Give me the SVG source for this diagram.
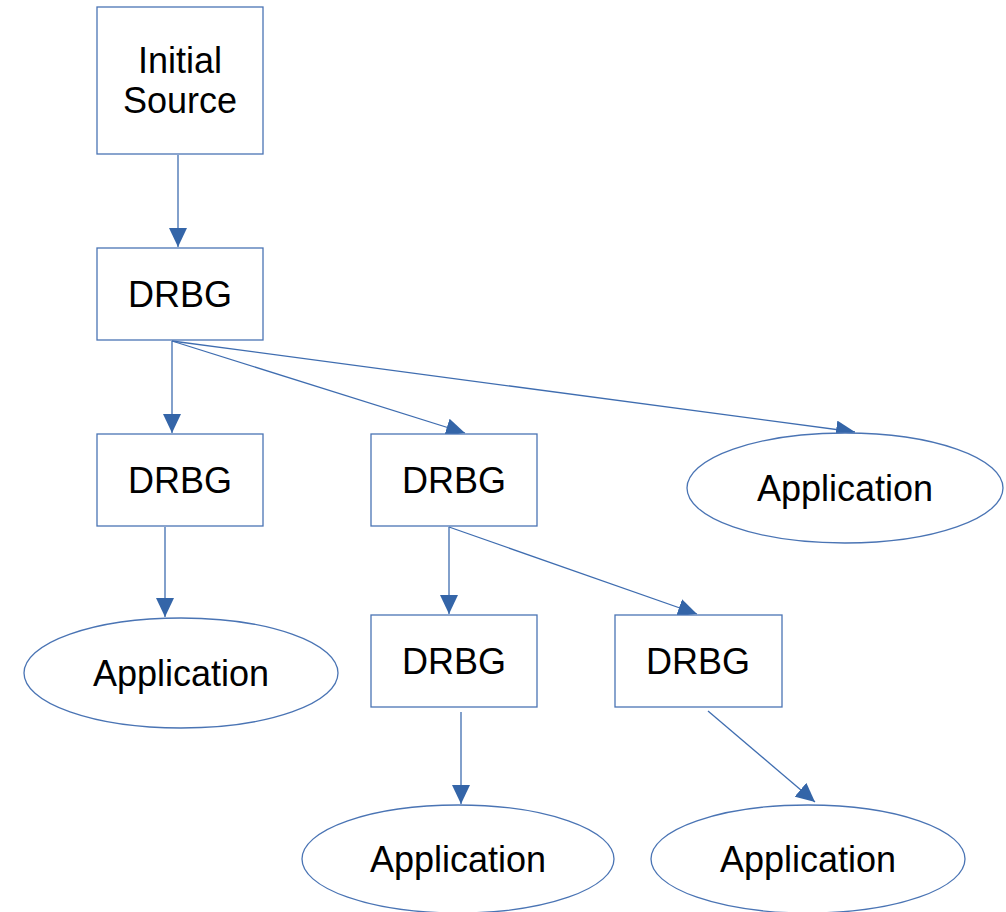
<svg xmlns="http://www.w3.org/2000/svg" width="1006" height="912" viewBox="0 0 1006 912">
<style>
.box{fill:#fff;stroke:#4a74b4;stroke-width:1.3}
.lbl{font-family:"Liberation Sans",Arial,sans-serif;font-size:36px;fill:#000;text-anchor:middle}
.edge{stroke:#3f6db0;stroke-width:1.3;fill:none;marker-end:url(#ah)}
</style>
<defs>
<marker id="ah" markerUnits="userSpaceOnUse" markerWidth="20" markerHeight="18" viewBox="0 0 20 18" refX="19" refY="9" orient="auto">
<path d="M0,0 L19,9 L0,18 Z" fill="#3465a8"/>
</marker>
</defs>
<rect width="1006" height="912" fill="#fff"/>
<g id="connectors">
<line class="edge" x1="178" y1="155" x2="178" y2="247"/>
<line class="edge" x1="172" y1="341" x2="172" y2="433"/>
<line class="edge" x1="172" y1="341" x2="465" y2="433"/>
<line class="edge" x1="172" y1="341" x2="855" y2="432"/>
<line class="edge" x1="165" y1="527" x2="165" y2="617"/>
<line class="edge" x1="449" y1="527" x2="449" y2="614"/>
<line class="edge" x1="449" y1="527" x2="697" y2="614"/>
<line class="edge" x1="461" y1="712" x2="461" y2="804"/>
<line class="edge" x1="708" y1="711" x2="815" y2="802"/>
</g>
<g id="initial-source">
<rect class="box" x="97" y="7" width="166" height="147"/>
<text class="lbl" x="180" y="73">Initial</text>
<text class="lbl" x="180" y="113">Source</text>
</g>
<g id="drbg-root">
<rect class="box" x="97" y="248" width="166" height="92"/>
<text class="lbl" x="180" y="307">DRBG</text>
</g>
<g id="drbg-left">
<rect class="box" x="97" y="434" width="166" height="92"/>
<text class="lbl" x="180" y="493">DRBG</text>
</g>
<g id="drbg-mid">
<rect class="box" x="371" y="434" width="166" height="92"/>
<text class="lbl" x="454" y="493">DRBG</text>
</g>
<g id="app-top-right">
<ellipse class="box" cx="845" cy="488" rx="158" ry="55"/>
<text class="lbl" x="845" y="501">Application</text>
</g>
<g id="app-left">
<ellipse class="box" cx="181" cy="673" rx="157" ry="55"/>
<text class="lbl" x="181" y="686">Application</text>
</g>
<g id="drbg-lower-left">
<rect class="box" x="371" y="615" width="166" height="92"/>
<text class="lbl" x="454" y="674">DRBG</text>
</g>
<g id="drbg-lower-right">
<rect class="box" x="615" y="615" width="167" height="92"/>
<text class="lbl" x="698" y="674">DRBG</text>
</g>
<g id="app-bottom-left">
<ellipse class="box" cx="458" cy="859" rx="156" ry="54"/>
<text class="lbl" x="458" y="872">Application</text>
</g>
<g id="app-bottom-right">
<ellipse class="box" cx="808" cy="859" rx="157" ry="54"/>
<text class="lbl" x="808" y="872">Application</text>
</g>
</svg>
